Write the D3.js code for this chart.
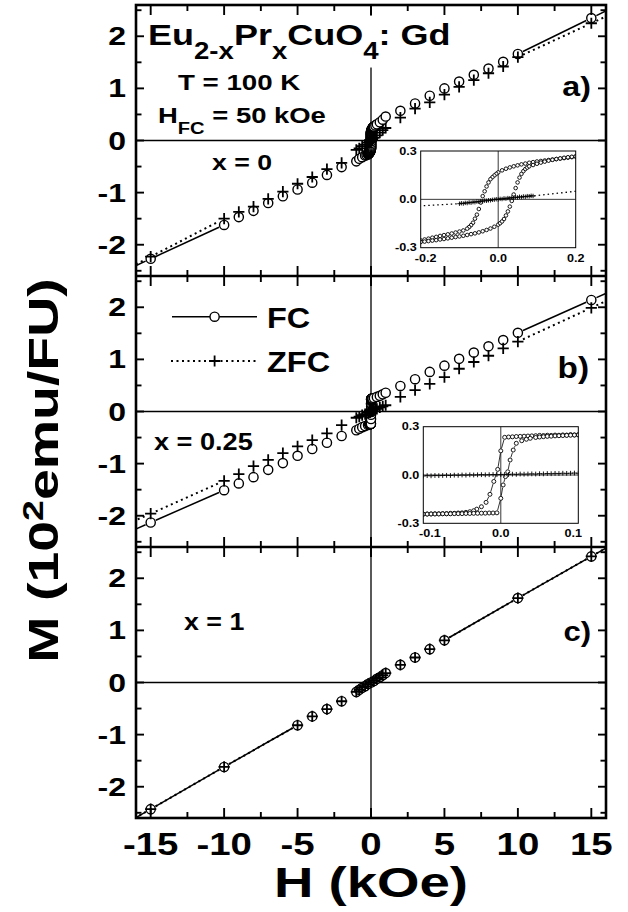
<!DOCTYPE html>
<html><head><meta charset="utf-8">
<script src="https://cdn.jsdelivr.net/npm/d3@7"></script>
<style>
html,body{margin:0;padding:0;background:#fff;}
svg{display:block;}
text{font-family:"Liberation Sans",Arial,Helvetica,sans-serif;font-weight:bold;fill:#000;}
</style></head><body>
<svg id="chart" width="628" height="912"></svg>
<script>
// ---------------- data ----------------
const hTicks = [-15, -10, -5, 0, 5, 10, 15];
const mTicks = [-2, -1, 0, 1, 2];
const insetATicksH = [-0.2, 0.0, 0.2];
const insetBTicksH = [-0.1, 0.0, 0.1];
const insetTicksM = [-0.3, 0.0, 0.3];

// panel a, x = 0 : field (kOe) and moment (10^2 emu/FU)
const fcA_H  = [-20,-15,-10,-9,-8,-7,-6,-5,-4,-3,-2,-1,-0.8,-0.6,-0.4,-0.3,0.3,0.4,0.6,0.8,1,2,3,4,5,6,7,8,9,10,15,20];
const fcA_M  = [-2.92,-2.27,-1.62,-1.47,-1.35,-1.20,-1.07,-0.94,-0.81,-0.66,-0.51,-0.40,-0.35,-0.32,-0.29,-0.28,0.29,0.31,0.35,0.40,0.46,0.57,0.71,0.86,1.00,1.13,1.26,1.38,1.51,1.66,2.35,3.04];
const zfcA_H = [-20,-15,-10,-9,-8,-7,-6,-5,-4,-3,-2,-1,-0.8,-0.6,-0.4,-0.2,0.2,0.4,0.6,0.8,1,2,3,4,5,6,7,8,9,10,15,20];
const zfcA_M = [-2.96,-2.23,-1.50,-1.37,-1.27,-1.12,-0.98,-0.83,-0.70,-0.55,-0.43,-0.18,-0.15,-0.11,-0.08,-0.04,0.05,0.10,0.15,0.20,0.24,0.44,0.61,0.73,0.88,1.03,1.16,1.29,1.42,1.60,2.25,2.90];

// low-field FC loop, x = 0 (descending and ascending branches)
const loopA_down_H = [0.20,0.19,0.18,0.17,0.16,0.15,0.14,0.13,0.12,0.11,0.10,0.09,0.08,0.07,0.06,0.05,0.04,0.03,0.02,0.01,0.00,
  -0.005,-0.01,-0.015,-0.02,-0.025,-0.03,-0.035,-0.04,-0.045,-0.05,-0.055,-0.06,-0.065,-0.07,-0.075,-0.08,
  -0.09,-0.10,-0.11,-0.12,-0.13,-0.14,-0.15,-0.16,-0.17,-0.18,-0.19,-0.20];
const loopA_down_M = [0.265,0.262,0.259,0.256,0.253,0.250,0.247,0.244,0.241,0.238,0.235,0.231,0.227,0.222,0.217,0.211,0.205,0.198,0.190,0.180,0.167,
  0.158,0.148,0.137,0.125,0.105,0.080,0.050,0.020,-0.020,-0.060,-0.095,-0.120,-0.145,-0.160,-0.172,-0.182,
  -0.193,-0.200,-0.206,-0.212,-0.217,-0.222,-0.227,-0.233,-0.238,-0.244,-0.249,-0.255];
const loopA_up_H = [-0.20,-0.19,-0.18,-0.17,-0.16,-0.15,-0.14,-0.13,-0.12,-0.11,-0.10,-0.09,-0.08,-0.07,-0.06,-0.05,-0.04,-0.03,-0.02,-0.01,0.00,
  0.005,0.01,0.015,0.02,0.025,0.03,0.035,0.04,0.045,0.05,0.055,0.06,0.065,0.07,0.075,0.08,
  0.09,0.10,0.11,0.12,0.13,0.14,0.15,0.16,0.17,0.18,0.19,0.20];
const loopA_up_M = [-0.265,-0.262,-0.259,-0.256,-0.253,-0.249,-0.246,-0.242,-0.238,-0.234,-0.230,-0.226,-0.221,-0.216,-0.211,-0.205,-0.198,-0.190,-0.181,-0.170,-0.157,
  -0.148,-0.137,-0.122,-0.100,-0.075,-0.045,-0.010,0.030,0.070,0.105,0.135,0.158,0.175,0.188,0.197,0.205,
  0.213,0.221,0.228,0.234,0.240,0.245,0.250,0.254,0.258,0.261,0.264,0.267];
// low-field ZFC, x = 0
const zfcA_in_H = [-0.100,-0.095,-0.090,-0.085,-0.080,-0.075,-0.070,-0.065,-0.060,-0.055,-0.050,-0.045,-0.040,-0.035,-0.030,-0.025,-0.020,-0.015,-0.010,-0.005,
  0.000,0.005,0.010,0.015,0.020,0.025,0.030,0.035,0.040,0.045,0.050,0.055,0.060,0.065,0.070,0.075,0.080,0.085,0.090];
const zfcA_in_M = [-0.027,-0.024,-0.026,-0.022,-0.023,-0.019,-0.021,-0.017,-0.018,-0.014,-0.015,-0.011,-0.012,-0.008,-0.009,-0.006,-0.006,-0.003,-0.002,0.001,
  -0.001,0.003,0.002,0.006,0.004,0.008,0.007,0.011,0.009,0.013,0.012,0.016,0.014,0.018,0.016,0.020,0.019,0.022,0.021];

// panel b, x = 0.25
const fcB_H  = [-20,-15,-10,-9,-8,-7,-6,-5,-4,-3,-2,-1,-0.8,-0.6,-0.4,-0.2,0.2,0.4,0.6,0.8,1,2,3,4,5,6,7,8,9,10,15,20];
const fcB_M  = [-2.75,-2.13,-1.51,-1.38,-1.26,-1.12,-0.99,-0.85,-0.72,-0.60,-0.47,-0.36,-0.33,-0.30,-0.28,-0.26,0.26,0.28,0.30,0.33,0.36,0.49,0.62,0.76,0.88,1.01,1.13,1.25,1.37,1.51,2.14,2.77];
const zfcB_H = [-20,-15,-10,-9,-8,-7,-6,-5,-4,-3,-2,-1,-0.8,-0.6,-0.4,-0.2,0.2,0.4,0.6,0.8,1,2,3,4,5,6,7,8,9,10,15,20];
const zfcB_M = [-2.58,-1.96,-1.33,-1.20,-1.05,-0.93,-0.80,-0.67,-0.55,-0.42,-0.26,-0.12,-0.10,-0.07,-0.05,-0.02,0.03,0.05,0.08,0.10,0.12,0.28,0.41,0.53,0.66,0.82,0.95,1.07,1.21,1.34,1.99,2.64];

const loopB_down_H = [0.100,0.095,0.090,0.085,0.080,0.075,0.070,0.065,0.060,0.055,0.050,0.045,0.040,0.035,0.030,0.025,0.020,0.015,0.010,0.005,
  0.000,-0.004,-0.009,-0.014,-0.019,-0.025,-0.031,-0.035,
  -0.040,-0.045,-0.050,-0.055,-0.060,-0.065,-0.070,-0.075,-0.080,-0.085,-0.090,-0.095,-0.100];
const loopB_down_M = [0.250,0.249,0.251,0.248,0.249,0.247,0.248,0.246,0.247,0.245,0.246,0.244,0.243,0.242,0.241,0.240,0.239,0.237,0.236,0.234,
  0.150,0.035,-0.040,-0.120,-0.170,-0.197,-0.212,-0.222,
  -0.228,-0.232,-0.235,-0.236,-0.238,-0.238,-0.240,-0.240,-0.241,-0.241,-0.242,-0.242,-0.243];
const loopB_up_H = [-0.100,-0.095,-0.090,-0.085,-0.080,-0.075,-0.070,-0.065,-0.060,-0.055,-0.050,-0.045,-0.040,-0.035,-0.030,-0.025,-0.020,-0.015,-0.010,-0.005,
  0.000,0.003,0.006,0.009,0.012,0.016,0.020,0.027,0.033,0.038,
  0.045,0.050,0.055,0.060,0.065,0.070,0.075,0.080,0.085,0.090,0.095,0.100];
const loopB_up_M = [-0.243,-0.243,-0.242,-0.242,-0.242,-0.241,-0.241,-0.241,-0.240,-0.240,-0.240,-0.239,-0.239,-0.238,-0.238,-0.237,-0.237,-0.236,-0.236,-0.235,
  -0.145,-0.062,-0.010,0.020,0.093,0.155,0.197,0.213,0.222,0.228,
  0.233,0.236,0.238,0.240,0.241,0.243,0.244,0.245,0.246,0.247,0.248,0.249];
const zfcB_in_H = [-0.100,-0.095,-0.090,-0.085,-0.080,-0.075,-0.070,-0.065,-0.060,-0.055,-0.050,-0.045,-0.040,-0.035,-0.030,-0.025,-0.020,-0.015,-0.010,-0.005,
  0.000,0.005,0.010,0.015,0.020,0.025,0.030,0.035,0.040,0.045,0.050,0.055,0.060,0.065,0.070,0.075,0.080,0.085,0.090,0.095,0.100];
const zfcB_in_M = [-0.006,-0.004,-0.005,-0.003,-0.004,-0.003,-0.002,-0.003,-0.001,-0.002,0.000,-0.001,0.001,0.000,0.001,0.002,0.001,0.002,0.003,0.002,
  0.003,0.004,0.003,0.005,0.004,0.006,0.005,0.006,0.007,0.006,0.008,0.007,0.009,0.008,0.010,0.009,0.011,0.010,0.011,0.012,0.011];

// panel c, x = 1
const c_H   = [-20,-15,-10,-5,-4,-3,-2,-1,-0.8,-0.6,-0.4,-0.2,0,0.2,0.4,0.6,0.8,1,2,3,4,5,10,15,20];
const fcC_M = [-3.24,-2.43,-1.62,-0.82,-0.65,-0.51,-0.36,-0.18,-0.14,-0.10,-0.07,-0.03,0.00,0.03,0.07,0.10,0.14,0.18,0.34,0.48,0.64,0.81,1.62,2.42,3.22];
const zfcC_M = [-3.24,-2.43,-1.62,-0.82,-0.65,-0.51,-0.36,-0.18,-0.14,-0.10,-0.07,-0.03,0.00,0.03,0.07,0.10,0.14,0.18,0.34,0.48,0.64,0.81,1.62,2.42,3.22];

// ---------------- layout ----------------
const L = 136, R = 606, T = 5, PH = 271;
const svg = d3.select('#chart');
const x = d3.scaleLinear().domain([-16, 16]).range([L, R]);

const zip = (hs, ms) => hs.map((h, i) => [h, ms[i]]);
const merged = (...sets) => sets.flat().sort((a, b) => a[0] - b[0]);
const fmt = v => (Math.abs(v) < 1e-9 ? '0' : String(v));
const fmt1 = v => (v < 0 ? '-' : '') + Math.abs(v).toFixed(1);

function stext(g, px, py, str, size, sx, anchor) {
  return g.append('text')
    .attr('transform', `translate(${px},${py}) scale(${sx},1)`)
    .attr('font-size', size)
    .attr('text-anchor', anchor || 'start')
    .text(str);
}

// line segments between consecutive points, broken around the symbols
function gapLines(g, pts, xs, ys, o) {
  for (let i = 0; i < pts.length - 1; i++) {
    const x1 = xs(pts[i][0]), y1 = ys(pts[i][1]);
    const x2 = xs(pts[i + 1][0]), y2 = ys(pts[i + 1][1]);
    const dx = x2 - x1, dy = y2 - y1, len = Math.hypot(dx, dy);
    if (len < o.minLen) continue;
    const ux = dx / len, uy = dy / len;
    const ln = g.append('line')
      .attr('x1', x1 + ux * o.gap).attr('y1', y1 + uy * o.gap)
      .attr('x2', x2 - ux * o.gap).attr('y2', y2 - uy * o.gap)
      .attr('stroke', '#000').attr('stroke-width', o.width);
    if (o.dash) ln.attr('stroke-dasharray', o.dash);
  }
}
function circles(g, pts, xs, ys, r, sw) {
  g.append('g').selectAll('circle').data(pts).join('circle')
    .attr('cx', d => xs(d[0])).attr('cy', d => ys(d[1])).attr('r', r)
    .attr('fill', '#fff').attr('stroke', '#000').attr('stroke-width', sw);
}
function pluses(g, pts, xs, ys, h, sw) {
  g.append('g').selectAll('path').data(pts).join('path')
    .attr('d', d => {
      const cx = xs(d[0]), cy = ys(d[1]);
      return `M${cx - h},${cy}H${cx + h}M${cx},${cy - h}V${cy + h}`;
    })
    .attr('fill', 'none').attr('stroke', '#000').attr('stroke-width', sw);
}

const panels = [
  { id: 'a',
    fc: merged(zip(fcA_H, fcA_M), zip(loopA_down_H, loopA_down_M), zip(loopA_up_H, loopA_up_M)),
    zfc: merged(zip(zfcA_H, zfcA_M), zip(zfcA_in_H, zfcA_in_M)) },
  { id: 'b',
    fc: merged(zip(fcB_H, fcB_M), zip(loopB_down_H, loopB_down_M), zip(loopB_up_H, loopB_up_M)),
    zfc: merged(zip(zfcB_H, zfcB_M), zip(zfcB_in_H, zfcB_in_M)) },
  { id: 'c',
    fc: zip(c_H, fcC_M),
    zfc: zip(c_H, zfcC_M) }
];

const MR = 4.6;   // main-panel circle radius
const defs = svg.append('defs');
panels.forEach((p, i) => {
  const top = T + i * PH, bot = top + PH;
  p.top = top; p.bot = bot;
  p.y = d3.scaleLinear().domain([-2.6, 2.6]).range([bot, top]);
  defs.append('clipPath').attr('id', 'clip' + p.id)
    .append('rect').attr('x', L).attr('y', top).attr('width', R - L).attr('height', PH);
  const g = svg.append('g').attr('clip-path', `url(#clip${p.id})`);
  p.g = g;
  // zero lines
  g.append('line').attr('x1', L).attr('x2', R).attr('y1', p.y(0)).attr('y2', p.y(0))
    .attr('stroke', '#000').attr('stroke-width', 1.3);
  g.append('line').attr('x1', x(0)).attr('x2', x(0)).attr('y1', top).attr('y2', bot)
    .attr('stroke', '#000').attr('stroke-width', 1.3);
  // connecting lines
  gapLines(g, p.fc, x, p.y, { gap: MR + 1, minLen: 25, width: 1.5 });
  gapLines(g, p.zfc, x, p.y, { gap: MR + 1, minLen: 25, width: 2, dash: '2,3.5' });
  // symbols
  circles(g, p.fc, x, p.y, MR, 1.4);
  pluses(g, p.zfc, x, p.y, 5.6, 1.8);
});

// ---------------- insets ----------------
function inset(cfg) {
  const xs = d3.scaleLinear().domain(cfg.hDom).range([cfg.x0, cfg.x1]);
  const ys = d3.scaleLinear().domain([-0.3, 0.3]).range([cfg.y1, cfg.y0]);
  const id = 'clipin' + cfg.id;
  defs.append('clipPath').attr('id', id).append('rect')
    .attr('x', cfg.x0).attr('y', cfg.y0).attr('width', cfg.x1 - cfg.x0).attr('height', cfg.y1 - cfg.y0);
  const g0 = svg.append('g');
  g0.append('rect').attr('x', cfg.x0).attr('y', cfg.y0).attr('width', cfg.x1 - cfg.x0).attr('height', cfg.y1 - cfg.y0)
    .attr('fill', '#fff');
  const g = g0.append('g').attr('clip-path', `url(#${id})`);
  g.append('line').attr('x1', cfg.x0).attr('x2', cfg.x1).attr('y1', ys(0)).attr('y2', ys(0))
    .attr('stroke', '#222').attr('stroke-width', 0.9);
  g.append('line').attr('x1', xs(0)).attr('x2', xs(0)).attr('y1', cfg.y0).attr('y2', cfg.y1)
    .attr('stroke', '#222').attr('stroke-width', 0.9);
  if (cfg.zfcLine) {
    g.append('path').datum(cfg.zfcLine)
      .attr('d', d3.line().x(d => xs(d[0])).y(d => ys(d[1])))
      .attr('fill', 'none').attr('stroke', '#000').attr('stroke-width', 1.3).attr('stroke-dasharray', '1.5,3');
  }
  if (cfg.fcLines) {
    cfg.loops.forEach(br => gapLines(g, br, xs, ys, { gap: 2.6, minLen: 7, width: 0.8 }));
  }
  cfg.loops.forEach(br => circles(g, br, xs, ys, cfg.r, 0.9));
  pluses(g, cfg.zfc, xs, ys, cfg.ph, 0.9);
  g0.append('rect').attr('x', cfg.x0).attr('y', cfg.y0).attr('width', cfg.x1 - cfg.x0).attr('height', cfg.y1 - cfg.y0)
    .attr('fill', 'none').attr('stroke', '#000').attr('stroke-width', 1);
  // tick labels
  insetTicksM.forEach(v => {
    stext(g0, cfg.x0 - 4, ys(v) + 3.7, fmt1(v), 10.5, 1.2, 'end');
  });
  cfg.hTicks.forEach((v, i) => {
    stext(g0, xs(v) + cfg.hShift[i], cfg.y1 + 14, fmt1(v), 10.5, 1.2, 'middle');
  });
}

inset({ id: 'a', x0: 420.7, x1: 575.7, y0: 151, y1: 247.7, hDom: [-0.2, 0.2],
  loops: [zip(loopA_down_H, loopA_down_M), zip(loopA_up_H, loopA_up_M)],
  zfc: zip(zfcA_in_H, zfcA_in_M), zfcLine: panels[0].zfc,
  r: 1.8, ph: 2.2, fcLines: false, hTicks: insetATicksH, hShift: [5, 0, 0] });
inset({ id: 'b', x0: 423.3, x1: 578.3, y0: 426.7, y1: 523.3, hDom: [-0.1, 0.1],
  loops: [zip(loopB_down_H, loopB_down_M), zip(loopB_up_H, loopB_up_M)],
  zfc: zip(zfcB_in_H, zfcB_in_M), zfcLine: null,
  r: 2.0, ph: 2.4, fcLines: true, hTicks: insetBTicksH, hShift: [6.5, 0, -5] });

// ---------------- frame and ticks ----------------
const fr = svg.append('g');
fr.append('rect').attr('x', L).attr('y', T).attr('width', R - L).attr('height', 3 * PH)
  .attr('fill', 'none').attr('stroke', '#000').attr('stroke-width', 2.6);
[1, 2].forEach(k => fr.append('line').attr('x1', L).attr('x2', R)
  .attr('y1', T + k * PH).attr('y2', T + k * PH).attr('stroke', '#000').attr('stroke-width', 2.6));

const hMinor = d3.range(-15, 15.01, 2.5);
[0, 1, 2, 3].forEach(k => {
  const yb = T + k * PH;
  hMinor.forEach(h => {
    const len = (Math.abs(h % 5) < 1e-9) ? 10 : 6;
    const up = k > 0 ? len : 0, dn = k < 3 ? len : 0;
    fr.append('line').attr('x1', x(h)).attr('x2', x(h)).attr('y1', yb - up).attr('y2', yb + dn)
      .attr('stroke', '#000').attr('stroke-width', 1.9);
  });
});
const mMinor = d3.range(-2.5, 2.51, 0.5);
panels.forEach(p => {
  mMinor.forEach(m => {
    const len = Number.isInteger(m) ? 8 : 5.5;
    fr.append('line').attr('x1', L).attr('x2', L + len).attr('y1', p.y(m)).attr('y2', p.y(m))
      .attr('stroke', '#000').attr('stroke-width', 1.9);
    fr.append('line').attr('x1', R - len).attr('x2', R).attr('y1', p.y(m)).attr('y2', p.y(m))
      .attr('stroke', '#000').attr('stroke-width', 1.9);
  });
  mTicks.forEach(m => stext(fr, 126, p.y(m) + 9, fmt(m), 25, 1.28, 'end'));
});
hTicks.forEach(h => stext(fr, x(h), 855, fmt(h), 32, 1.2, 'middle'));

// ---------------- axis titles ----------------
svg.append('text').attr('transform', 'translate(371,897) scale(1.3,1)')
  .attr('font-size', 42).attr('text-anchor', 'middle').text('H (kOe)');
const yl = svg.append('text').attr('transform', 'translate(58,470.5) rotate(-90) scale(1.29,1)')
  .attr('font-size', 43).attr('text-anchor', 'middle');
yl.append('tspan').text('M (10');
yl.append('tspan').attr('font-size', 29).attr('dy', -15).text('2');
yl.append('tspan').attr('dy', 15).text('emu/FU)');

// ---------------- annotations ----------------
const ann = svg.append('g');
// compound title with a white backing box
const tg = ann.append('g').attr('transform', 'translate(148,45) scale(1.2,1)');
const bg = tg.append('rect').attr('fill', '#fff');
const tt = tg.append('text').attr('font-size', 30);
tt.append('tspan').text('Eu');
tt.append('tspan').attr('font-size', 23).attr('dy', 14).text('2-x');
tt.append('tspan').attr('dy', -14).text('Pr');
tt.append('tspan').attr('font-size', 23).attr('dy', 14).text('x');
tt.append('tspan').attr('dy', -14).text('CuO');
tt.append('tspan').attr('font-size', 23).attr('dy', 14).text('4');
tt.append('tspan').attr('dy', -14).text(': Gd');
const bb = tt.node().getBBox();
bg.attr('x', bb.x - 3).attr('y', bb.y - 2).attr('width', bb.width + 6).attr('height', bb.height + 6);

stext(ann, 178, 90, 'T = 100 K', 22.5, 1.23, 'start');
const hf = ann.append('text').attr('transform', 'translate(158,123) scale(1.22,1)').attr('font-size', 22.5);
hf.append('tspan').text('H');
hf.append('tspan').attr('font-size', 16.5).attr('dy', 11).text('FC');
hf.append('tspan').attr('dy', -11).text(' = 50 kOe');
stext(ann, 212, 170, 'x = 0', 21.5, 1.24, 'start');
stext(ann, 591, 96, 'a)', 28, 1.15, 'end');

stext(ann, 154, 450, 'x = 0.25', 23, 1.18, 'start');
stext(ann, 589, 378, 'b)', 29, 1.15, 'end');

stext(ann, 184, 630, 'x = 1', 23.5, 1.14, 'start');
stext(ann, 591, 641, 'c)', 27, 1.15, 'end');

// legend
const lg = ann.append('g');
lg.append('line').attr('x1', 172).attr('x2', 214.6 - MR).attr('y1', 316.7).attr('y2', 316.7).attr('stroke', '#000').attr('stroke-width', 1.5);
lg.append('line').attr('x1', 214.6 + MR).attr('x2', 257).attr('y1', 316.7).attr('y2', 316.7).attr('stroke', '#000').attr('stroke-width', 1.5);
lg.append('circle').attr('cx', 214.6).attr('cy', 316.7).attr('r', MR).attr('fill', '#fff').attr('stroke', '#000').attr('stroke-width', 1.4);
lg.append('line').attr('x1', 171).attr('x2', 257).attr('y1', 361).attr('y2', 361).attr('stroke', '#000').attr('stroke-width', 2).attr('stroke-dasharray', '2,3.5');
lg.append('path').attr('d', 'M209,361H220.2M214.6,355.4V366.6').attr('stroke', '#000').attr('stroke-width', 1.8).attr('fill', 'none');
stext(lg, 267, 328, 'FC', 29, 1.12, 'start');
stext(lg, 267, 372, 'ZFC', 29, 1.12, 'start');
</script>
</body></html>
